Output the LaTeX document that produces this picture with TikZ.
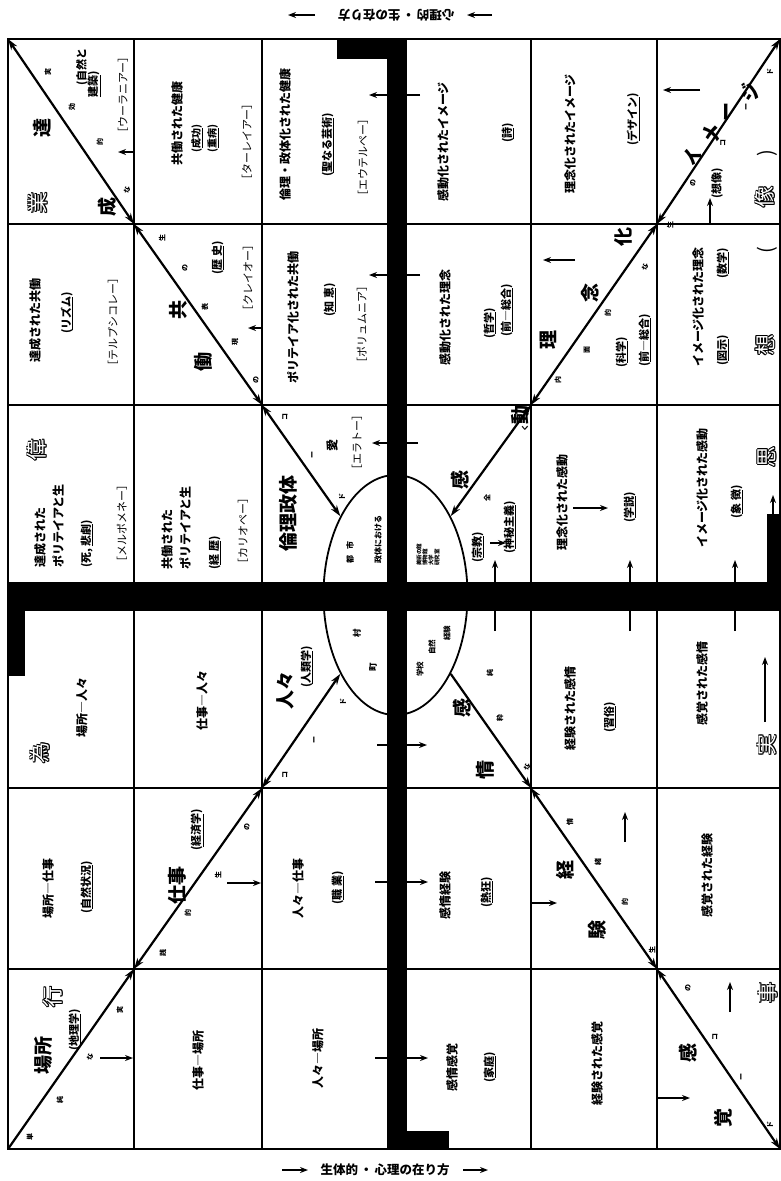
\documentclass[tikz,border=0pt]{standalone}
\usepackage{fontspec}
\setmainfont{Noto Sans CJK JP}
\usetikzlibrary{arrows.meta,shapes.geometric}
\newcommand{\hollowtxt}[4]{%
  \foreach \hdx/\hdy in {-0.9/0,0.9/0,0/-0.9,0/0.9,-0.65/-0.65,0.65/0.65,-0.65/0.65,0.65/-0.65}{%
    \node[hol,text=black,xshift=\hdx pt,yshift=\hdy pt] at (#2,#3) {#4};}%
  \node[hol,text=white] (#1) at (#2,#3) {#4};}
\begin{document}
\begin{tikzpicture}[x=1pt,y=-1pt,
  gridline/.style={line width=1.8pt},
  dg/.style={line width=2.2pt,{Stealth[length=11pt,width=7pt]}-{Stealth[length=11pt,width=7pt]}},
  dgone/.style={line width=2.2pt,-{Stealth[length=11pt,width=7pt]}},
  arr/.style={line width=1.6pt,-{Stealth[length=8pt,width=6pt]}},
  txt/.style={rotate=90,inner sep=0pt,font=\bfseries\fontsize{12}{14}\selectfont},
  paren/.style={rotate=90,inner sep=0pt,font=\bfseries\fontsize{11}{13}\selectfont},
  brk/.style={rotate=90,inner sep=0pt,font=\fontsize{11}{13}\selectfont},
  big/.style={rotate=90,inner sep=0pt,font=\bfseries\fontsize{19}{21}\selectfont},
  sm/.style={rotate=90,inner sep=0pt,font=\bfseries\fontsize{7}{8}\selectfont},
  elt/.style={rotate=90,inner sep=0pt,font=\bfseries\fontsize{8}{9}\selectfont},
  tiny/.style={rotate=90,inner sep=0pt,font=\bfseries\fontsize{5.5}{6}\selectfont},
  hol/.style={rotate=90,inner sep=0pt,font=\fontsize{21}{23}\selectfont},
  lbl/.style={inner sep=0pt,font=\bfseries\fontsize{12.5}{14}\selectfont}]
\useasboundingbox (0,0) rectangle (781,1181);
\fill[white] (0,0) rectangle (781,1181);
% grid
\draw[gridline] (8,39) rectangle (780,1149);
\foreach \gx in {134,262,531,657} \draw[gridline] (\gx,39) -- (\gx,1149);
\foreach \gy in {224,405,788,969} \draw[gridline] (8,\gy) -- (780,\gy);
% ellipse
\node[draw,ellipse,line width=1.8pt,minimum width=144pt,minimum height=240pt,inner sep=0pt] (ell) at (395.5,595) {};
% crossing points
\coordinate (A0) at (8,39);    \coordinate (A1) at (134,224); \coordinate (A2) at (262,405);
\coordinate (B0) at (8,1149);  \coordinate (B1) at (134,969); \coordinate (B2) at (262,788);
\coordinate (C0) at (780,39);  \coordinate (C1) at (657,224); \coordinate (C2) at (531,405);
\coordinate (D0) at (780,1149);\coordinate (D1) at (657,969); \coordinate (D2) at (531,788);
% diagonals
\draw[dg] (A0) -- (A1); \draw[dg] (A1) -- (A2); \draw[dg] (A2) -- (ell.125);
\draw[dgone] (B0) -- (B1); \draw[dg] (B1) -- (B2); \draw[dg] (B2) -- (ell.235);
\draw[dg] (C0) -- (C1); \draw[dg] (C1) -- (C2); \draw[dg] (C2) -- (ell.55);
\draw[dgone] (ell.305) -- (D2); \draw[dg] (D2) -- (D1); \draw[dg] (D1) -- (D0);
% small arrows
\foreach \n/\xa/\ya/\xb/\yb in {a1/134/152/118/152, a2/262/328/248/328, a3/420/95/369/95,
  a4/420/275/369/275, a5/700/90/663/90, a6/575/260/543/260, a7/710/224/710/198,
  a8/418/443/372/443, a9/490/543/506/543, a10/495/631/495/560, a11/377/745/427/745,
  a12/573/508/608/508, a13/630/631/630/560, a14/735/631/735/560, a15/773/514/773/495,
  a16/765/722/765/657, a17/227/883/261/883, a18/100/1058/133/1058, a19/375/882/428/882,
  a20/375/1058/428/1058, a21/625/842/625/812, a22/531/903/557/903, a23/730/1012/730/982,
  a24/657/1098/690/1098, t1/315/15/288/15, t2/492/15/467/15, b1/282/1170/308/1170,
  b2/463/1170/488/1170}{%
  \coordinate (\n s) at (\xa,\ya); \coordinate (\n e) at (\xb,\yb);
  \draw[arr] (\n s) -- (\n e);}
% black bars
\fill[black] (387,38) rectangle (407,1150);
\fill[black] (7,582) rectangle (781,611);
\fill[black] (337,38) rectangle (387,59);
\fill[black] (407,1131) rectangle (449,1150);
\fill[black] (7,611) rectangle (25,676);
\fill[black] (767,514) rectangle (781,582);
% side labels
\node[lbl,rotate=180] (toplbl) at (396,15) {心理的\hspace{2pt}・\hspace{2pt}生の在り方};
\node[lbl] (botlbl) at (385,1170) {生体的\hspace{2pt}・\hspace{2pt}心理の在り方};
% hollow characters
\hollowtxt{h1}{38}{203}{業}
\hollowtxt{h2}{37}{450}{偉}
\hollowtxt{h3}{40}{753}{為}
\hollowtxt{h4}{53}{997}{行}
\hollowtxt{h5}{768}{993}{事}
\hollowtxt{h6}{767}{745}{実}
\hollowtxt{h7}{767}{457}{思}
\hollowtxt{h8}{765}{345}{想}
\hollowtxt{h9}{765}{197}{像}
\node[rotate=90,inner sep=0pt,font=\fontsize{20}{22}\selectfont] (pl) at (767,250) {(};
\node[rotate=90,inner sep=0pt,font=\fontsize{20}{22}\selectfont] (pr) at (767,153) {)};
% big characters
\foreach \n/\px/\py/\ch in {1/42/128/達, 2/107/207/成, 3/178/310/共, 4/203/362/働,
  5/460/480/感, 6/520/415/動, 7/462/708/感, 8/485/770/情, 9/565/870/経, 10/597/930/験,
  11/688/1053/感, 12/723/1118/覚, 13/548/340/理, 14/590/293/念, 15/623/237/化,
  16/693/157/イ, 17/711/134/メ, 18/729/112/ー, 19/750/92/ジ}{%
  \node[big] (g\n) at (\px,\py) {\ch};}
\node[big] (g20) at (288,513) {倫理政体};
\node[big] (g21) at (285,690) {人々};
\node[big] (g22) at (177,885) {仕事};
\node[big] (g23) at (43,1055) {場所};
% small characters along diagonals
\foreach \n/\px/\py/\ch in {1/48/72/実, 2/72/107/効, 3/100/142/的, 4/127/190/な,
  5/162/238/生, 6/185/268/の, 7/205/307/表, 8/235/342/現, 9/256/380/の,
  10/285/417/コ, 11/313/455/ー, 12/342/497/ド,
  13/30/1137/単, 14/60/1100/純, 15/90/1057/な, 16/120/1010/実, 17/163/953/践,
  18/188/913/的, 19/218/875/生, 20/247/827/の, 21/285/775/コ, 22/315/740/ー, 23/343/702/ド,
  24/487/498/全, 25/525/428/く, 26/558/380/内, 27/587/350/面, 28/608/313/的, 29/645/267/な,
  30/670/225/生, 31/693/183/の, 32/723/143/コ, 33/747/107/ー, 34/770/72/ド,
  35/490/673/純, 36/500/718/粋, 37/527/767/な, 38/570/822/情, 39/598/862/緒,
  40/625/902/的, 41/652/950/生, 42/688/988/の, 43/715/1037/コ, 44/742/1077/ー, 45/770/1125/ド}{%
  \node[sm] (s\n) at (\px,\py) {\ch};}
% r1c1
\node[paren] (c11a) at (82,67) {(自然と};
\node[paren] (c11b) at (94,84) {\underline{建築})};
\node[brk] (c11c) at (123,95) {［ウーラニアー］};
% r1c2
\node[txt] (c12a) at (177,123) {共働された健康};
\node[paren,font=\bfseries\fontsize{10}{12}\selectfont] (c12b) at (197,138) {(\underline{成功})};
\node[paren,font=\bfseries\fontsize{10}{12}\selectfont] (c12c) at (213,138) {(\underline{重病})};
\node[brk] (c12d) at (247,142) {［ターレイアー］};
% r2c1
\node[txt] (c21a) at (35,320) {達成された共働};
\node[paren] (c21b) at (67,313) {(\underline{リズム})};
\node[brk] (c21c) at (113,322) {［テルプシコレー］};
% r2c2
\node[paren] (c22a) at (218,258) {(\underline{歴\ 史})};
\node[brk] (c22b) at (248,278) {［クレイオー］};
% r1c3
\node[txt] (c13a) at (285,134) {倫理・政体化された健康};
\node[paren] (c13b) at (328,145) {(\underline{聖なる芸術})};
\node[brk] (c13c) at (363,157) {［エウテルペー］};
% r2c3
\node[txt] (c23a) at (293,317) {ポリテイア化された共働};
\node[paren] (c23b) at (330,300) {(\underline{知\ 恵})};
\node[brk] (c23c) at (362,324) {［ポリュムニア］};
% r3c3
\node[txt] (c33a) at (332,445) {愛};
\node[brk] (c33b) at (357,442) {［エラトー］};
\node[elt] (e1) at (350,552) {都\hspace{6pt}市};
\node[elt] (e2) at (378,539) {政体における};
% r3c1
\node[txt,anchor=west] (c31a) at (40,568) {達成された};
\node[txt,anchor=west] (c31b) at (58,568) {ポリテイアと生};
\node[paren,anchor=west] (c31c) at (87,568) {(死, \underline{悲劇})};
\node[brk,anchor=west] (c31d) at (122,568) {［メルポメネー］};
% r3c2
\node[txt,anchor=west] (c32a) at (167,570) {共働された};
\node[txt,anchor=west] (c32b) at (185,570) {ポリテイアと生};
\node[paren,anchor=west] (c32c) at (215,570) {(\underline{経\ 歴})};
\node[brk,anchor=west] (c32d) at (243,570) {［カリオペー］};
% r4c1..r4c3
\node[txt] (c41a) at (82,707) {場所―人々};
\node[txt] (c42a) at (202,700) {仕事―人々};
\node[paren] (c43a) at (307,667) {(\underline{人類学})};
\node[elt,font=\bfseries\fontsize{8.5}{9}\selectfont] (e3) at (357,633) {村};
\node[elt,font=\bfseries\fontsize{8.5}{9}\selectfont] (e4) at (373,667) {町};
% r5, r6 left
\node[txt] (c51a) at (48,888) {場所―仕事};
\node[paren] (c51b) at (87,887) {(\underline{自然状況})};
\node[paren] (c52a) at (197,830) {(\underline{経済学})};
\node[txt] (c53a) at (298,888) {人々―仕事};
\node[paren] (c53b) at (338,888) {(\underline{職\ 業})};
\node[paren] (c61a) at (75,1030) {(\underline{地理学})};
\node[txt] (c62a) at (198,1060) {仕事―場所};
\node[txt] (c63a) at (318,1058) {人々―場所};
% right half, rows 1-2
\node[txt] (c14a) at (443,142) {感動化されたイメージ};
\node[paren] (c14b) at (508,133) {(\underline{詩})};
\node[txt] (c24a) at (445,317) {感動化された理念};
\node[paren] (c24b) at (490,323) {(\underline{哲学})};
\node[paren] (c24c) at (507,310) {(\underline{前―総合})};
\node[txt] (c15a) at (570,134) {理念化されたイメージ};
\node[paren] (c15b) at (633,119) {(\underline{デザイン})};
\node[paren] (c16a) at (717,183) {(想像)};
\node[paren] (c25a) at (622,352) {(\underline{科学})};
\node[paren] (c25b) at (645,340) {(\underline{前―総合})};
\node[txt] (c26a) at (698,307) {イメージ化された理念};
\node[paren] (c26b) at (723,263) {(\underline{数学})};
\node[paren] (c26c) at (723,350) {(\underline{図示})};
% r3c4..r3c6
\node[paren] (c34a) at (478,547) {(\underline{宗教})};
\node[paren] (c34b) at (510,527) {(\underline{神秘主義})};
\node[tiny,anchor=west] (e5) at (419,566) {美術の館};
\node[tiny,anchor=west] (e6) at (425,566) {博物館};
\node[tiny,anchor=west] (e7) at (431,566) {大学};
\node[tiny,anchor=west] (e8) at (437,566) {研究室};
\node[txt] (c35a) at (562,502) {理念化された感動};
\node[paren] (c35b) at (630,507) {(\underline{学説})};
\node[txt] (c36a) at (702,488) {イメージ化された感動};
\node[paren] (c36b) at (737,502) {(\underline{象\ 徴})};
% r4c4..r4c6
\node[elt,font=\bfseries\fontsize{7.5}{8}\selectfont] (e9) at (420,669) {学校};
\node[elt,font=\bfseries\fontsize{7.5}{8}\selectfont] (e10) at (432,647) {自然};
\node[elt,font=\bfseries\fontsize{7.5}{8}\selectfont] (e11) at (447,633) {経験};
\node[txt] (c45a) at (570,708) {経験された感情};
\node[paren] (c45b) at (610,717) {(\underline{習俗})};
\node[txt] (c46a) at (702,683) {感覚された感情};
% rows 5-6 right
\node[txt] (c54a) at (445,895) {感情経験};
\node[paren] (c54b) at (487,892) {(\underline{熱狂})};
\node[txt] (c64a) at (452,1067) {感情感覚};
\node[paren] (c64b) at (490,1067) {(\underline{家庭})};
\node[txt] (c56a) at (707,875) {感覚された経験};
\node[txt] (c65a) at (597,1063) {経験された感覚};
\end{tikzpicture}
\end{document}
